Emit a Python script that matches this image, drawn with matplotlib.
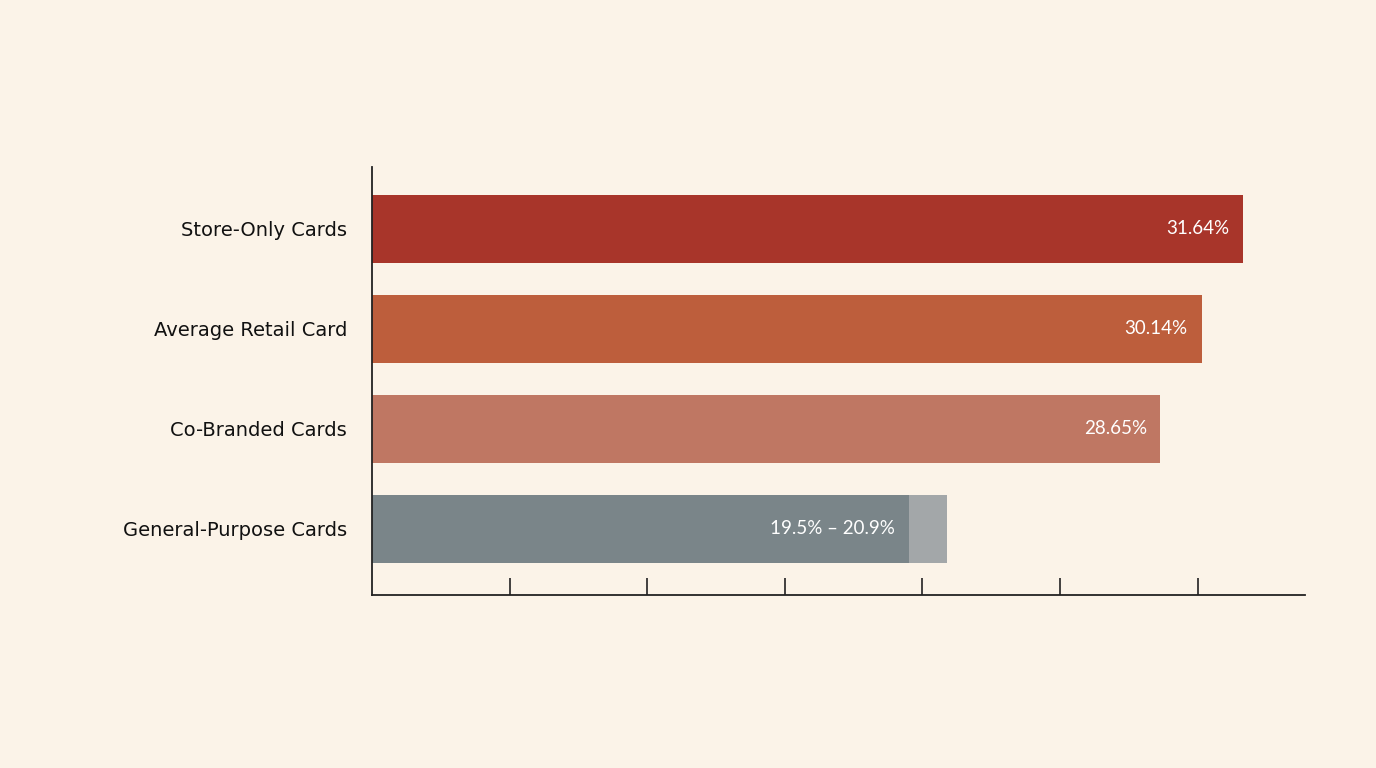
import matplotlib
matplotlib.use("Agg")
import matplotlib.pyplot as plt

categories = ["Store-Only Cards", "Average Retail Card", "Co-Branded Cards", "General-Purpose Cards"]
values = [31.64, 30.14, 28.65, 19.5]
range_high = [None, None, None, 20.9]
labels = ["31.64%", "30.14%", "28.65%", "19.5% – 20.9%"]
colors = ["#A8352A", "#BD5E3C", "#BF7763", "#7A8589"]
range_color = "#A3A7A9"

bg = "#FBF3E8"
fig = plt.figure(figsize=(13.76, 7.68), dpi=100, facecolor=bg)
ax = fig.add_axes([0.2703, 0.2253, 0.6781, 0.5573], facecolor=bg)
plt.rcParams['font.family'] = ['Lato', 'DejaVu Sans']

ys = [3, 2, 1, 0]
for y, v, hi, lab, c in zip(ys, values, range_high, labels, colors):
    ax.barh(y, v, height=0.68, color=c, zorder=2)
    end = v
    if hi is not None:
        ax.barh(y, hi - v, left=v, height=0.68, color=range_color, zorder=2)
    ax.text(end - 0.5, y, lab, color="white", ha="right", va="center", fontsize=13.5, zorder=3)

ax.set_xlim(0, 33.9)
ax.set_ylim(-0.66, 3.62)
ax.set_yticks(ys)
ax.set_yticklabels(categories, fontsize=14, color="#111111")
ax.tick_params(axis="y", length=0, pad=18)
ax.set_xticks([5, 10, 15, 20, 25, 30])
ax.set_xticklabels([])
ax.tick_params(axis="x", direction="in", length=12, width=1.2, color="#222222")
for s in ["top", "right"]:
    ax.spines[s].set_visible(False)
for s in ["left", "bottom"]:
    ax.spines[s].set_color("#222222")
    ax.spines[s].set_linewidth(1.3)

fig.savefig("out.png", dpi=100, facecolor=bg)
